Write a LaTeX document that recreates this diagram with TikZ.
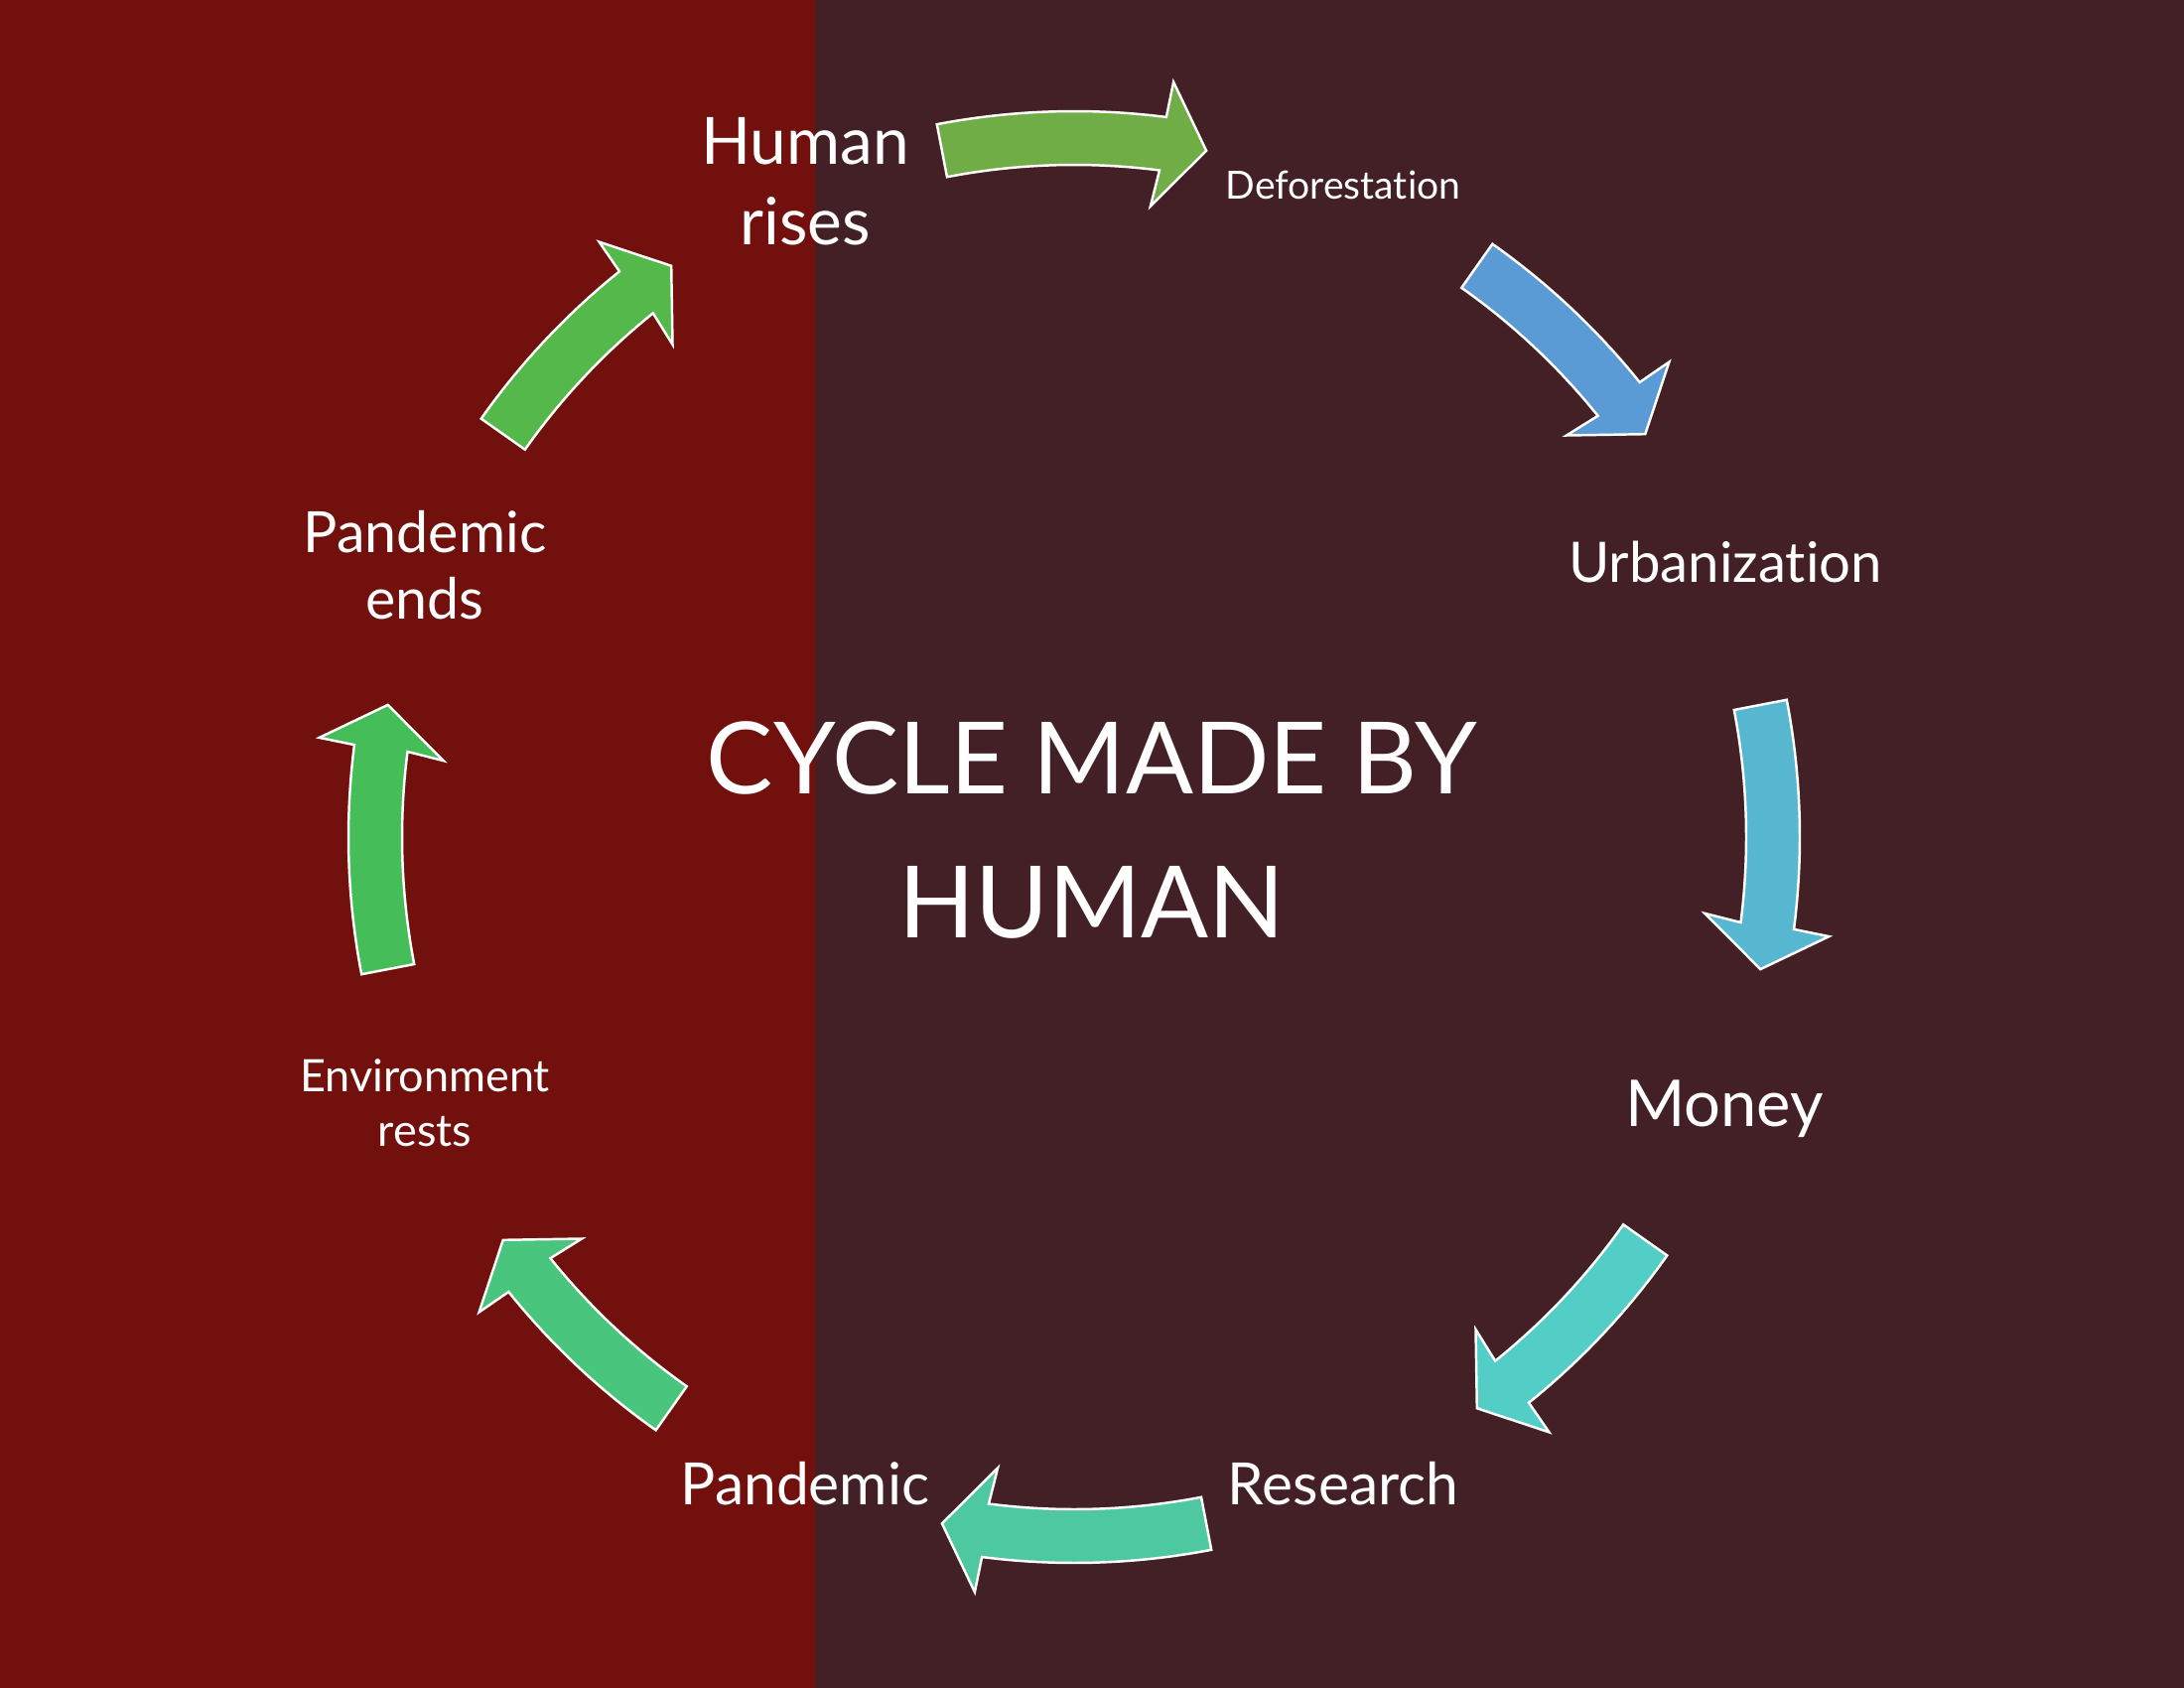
\documentclass[tikz,border=0pt]{standalone}
\usepackage{fontspec}
\setmainfont{Lato}[Ligatures=NoCommon]
\usepackage{xcolor}
\usepackage{tikz}

\definecolor{leftbg}{HTML}{72100D}
\definecolor{rightbg}{HTML}{422025}
\definecolor{arrowA}{HTML}{70AD47}
\definecolor{arrowB}{HTML}{5B9BD5}
\definecolor{arrowC}{HTML}{57B7D1}
\definecolor{arrowD}{HTML}{52CEC6}
\definecolor{arrowE}{HTML}{4EC8A0}
\definecolor{arrowF}{HTML}{4AC57D}
\definecolor{arrowG}{HTML}{45BD58}
\definecolor{arrowH}{HTML}{55B84A}

\tikzset{
  cyclearrow/.style={draw=white, line width=0.7pt},
  steplabel/.style={text=white, align=center, anchor=base, inner sep=0pt},
}

\begin{document}
\begin{tikzpicture}[x=0.01cm,y=-0.01cm]
  \useasboundingbox (0,0) rectangle (2200,1700);
  \fill[leftbg] (0,0) rectangle (821,1700);
  \fill[rightbg] (821,0) rectangle (2200,1700);

  % m = middle angle, h = half span of the arrow
  \begin{scope}[shift={(1082,843)}, yscale=-1]
    \foreach \m/\h/\c in {90/10.9/arrowA, 45/9.8/arrowB, 0/10.9/arrowC, -45/9.8/arrowD,
                          -90/10.9/arrowE, -135/9.8/arrowF, 180/10.9/arrowG, 135/9.8/arrowH}
      \draw[cyclearrow, fill=\c] (\m+\h:731)
        arc[start angle=\m+\h, end angle=\m-\h+3.6, radius=731]
        -- (\m-\h+3.4:767) -- (\m-\h:704) -- (\m-\h+4.0:640) -- (\m-\h+3.6:677)
        arc[start angle=\m-\h+3.6, end angle=\m+\h, radius=677] -- cycle;
  \end{scope}

  \node[steplabel, font=\fontsize{18.7}{23.3}\selectfont] (rises) at (811,247) {Human\\rises};
  \node[steplabel, font=\fontsize{11.1}{13}\selectfont] (defor) at (1353,201) {Deforestation};
  \node[steplabel, font=\fontsize{16}{19}\selectfont] (urban) at (1738,586) {Urbanization};
  \node[steplabel, font=\fontsize{18.5}{22}\selectfont] (money) at (1737,1134) {Money};
  \node[steplabel, font=\fontsize{16.7}{20}\selectfont] (research) at (1353,1515) {Research};
  \node[steplabel, font=\fontsize{16.7}{20}\selectfont] (pandemic) at (811,1515) {Pandemic};
  \node[steplabel, font=\fontsize{12.8}{15.6}\selectfont] (rests) at (428,1154) {Environment\\rests};
  \node[steplabel, font=\fontsize{16.3}{19}\selectfont] (ends) at (428,623) {Pandemic\\ends};

  \node[steplabel, font=\fontsize{28.6}{41}\selectfont] (title) at (1100,944) {CYCLE MADE BY\\HUMAN};
\end{tikzpicture}
\end{document}
